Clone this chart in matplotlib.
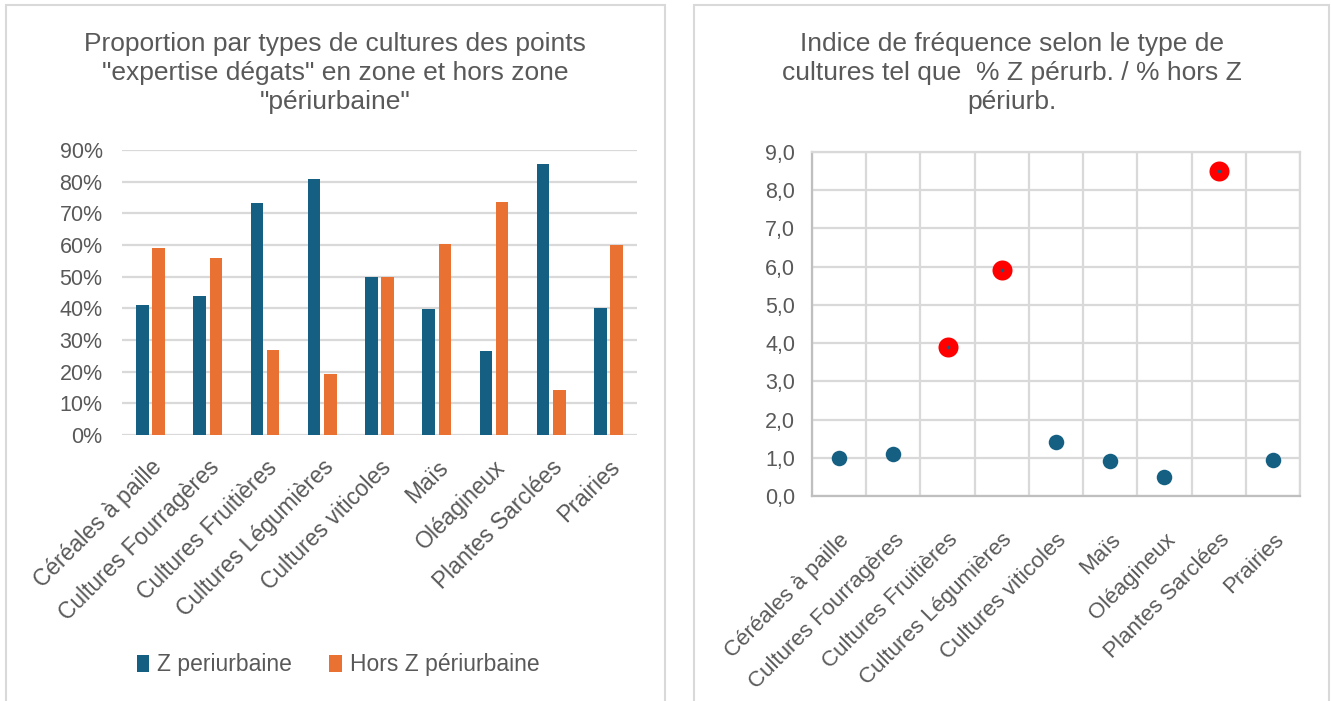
import matplotlib
matplotlib.use("Agg")
import matplotlib.pyplot as plt
from matplotlib.patches import Rectangle
import numpy as np

categories = ["Céréales à paille", "Cultures Fourragères", "Cultures Fruitières",
              "Cultures Légumières", "Cultures viticoles", "Maïs", "Oléagineux",
              "Plantes Sarclées", "Prairies"]
z_periurbaine = [41.0, 44.0, 73.3, 80.7, 50.0, 39.8, 26.5, 85.7, 40.0]
hors_z_periurbaine = [59.0, 56.0, 26.7, 19.3, 50.0, 60.2, 73.5, 14.3, 60.0]
indice_frequence = [0.99, 1.10, 3.89, 5.90, 1.41, 0.92, 0.50, 8.49, 0.94]
highlighted = [False, False, True, True, False, False, False, True, False]
pct_ticks = [0, 10, 20, 30, 40, 50, 60, 70, 80, 90]
idx_ticks = [0, 1, 2, 3, 4, 5, 6, 7, 8, 9]

title_left = 'Proportion par types de cultures des points\n"expertise dégats" en zone et hors zone\n"périurbaine"'
title_right = "Indice de fréquence selon le type de\ncultures tel que  % Z pérurb. / % hors Z\npériurb."

BLUE = "#156082"
ORANGE = "#E97132"
TXT = "#595959"
GRID = "#D9D9D9"
FONT = "Liberation Sans"

plt.rcParams["font.family"] = [FONT, "DejaVu Sans"]

W, H = 1331, 701
fig = plt.figure(figsize=(W / 100, H / 100), dpi=100)

def fx(px):
    return px / W

def fy(py):
    return 1 - py / H

# panel borders
for x0, x1 in [(5.5, 665), (694, 1329)]:
    fig.add_artist(Rectangle((fx(x0), fy(720)), fx(x1 - x0), (720 - 5) / H,
                             transform=fig.transFigure, fill=False,
                             edgecolor="#D9D9D9", linewidth=1.5))

# ---------- left bar chart ----------
axL = fig.add_axes([fx(122), fy(435), fx(637 - 122), (435 - 150) / H])
x = np.arange(len(categories))
bw = 0.22
off = 0.142
axL.bar(x - off, z_periurbaine, bw, color=BLUE, label="Z periurbaine", zorder=3)
axL.bar(x + off, hors_z_periurbaine, bw, color=ORANGE, label="Hors Z périurbaine", zorder=3)
axL.set_xlim(-0.5, len(categories) - 0.5)
axL.set_ylim(0, 90)
axL.set_yticks(pct_ticks)
axL.set_yticklabels([f"{v}%" for v in pct_ticks])
axL.yaxis.grid(True, color=GRID, linewidth=1.6, zorder=0)
axL.set_axisbelow(True)
for s in axL.spines.values():
    s.set_visible(False)
axL.tick_params(axis="both", length=0, colors=TXT, labelsize=15.5)
axL.tick_params(axis="y", pad=14)
axL.set_xticks(x)
axL.set_xticklabels(categories, rotation=45, ha="right", rotation_mode="anchor")
axL.tick_params(axis="x", pad=15, labelsize=16.5)
fig.text(fx(335), fy(73), title_left, ha="center", va="center", fontsize=19,
         color=TXT, linespacing=1.28)
leg = fig.legend(handles=axL.get_legend_handles_labels()[0],
                 labels=axL.get_legend_handles_labels()[1],
                 loc="center", bbox_to_anchor=(fx(338), fy(665)), ncol=2,
                 frameon=False, fontsize=16.5, handlelength=0.55, handleheight=0.8,
                 handletextpad=0.35, columnspacing=1.6, labelcolor=TXT)

# ---------- right scatter chart ----------
axR = fig.add_axes([fx(812), fy(496), fx(1300 - 812), (496 - 152) / H])
xs = np.arange(len(categories))
vals = np.array(indice_frequence)
hl = np.array(highlighted)
axR.scatter(xs[~hl], vals[~hl], s=15.5 ** 2 * 0.52, color=BLUE, zorder=4, linewidths=0)
axR.scatter(xs[hl], vals[hl], s=20 ** 2 * 0.52, color="#FF0000", zorder=4, linewidths=0)
axR.scatter(xs[hl], vals[hl], s=3.5 ** 2 * 0.52, color=BLUE, zorder=5, linewidths=0)
axR.set_xlim(-0.5, len(categories) - 0.5)
axR.set_ylim(0, 9)
axR.set_yticks(idx_ticks)
axR.set_yticklabels([f"{v},0" for v in idx_ticks])
axR.set_xticks(xs)
axR.set_xticklabels(categories, rotation=45, ha="right", rotation_mode="anchor")
axR.set_xticks(np.arange(-0.5, len(categories), 1.0), minor=True)
axR.xaxis.grid(True, which="minor", color=GRID, linewidth=1.6, zorder=0)
axR.yaxis.grid(True, which="major", color=GRID, linewidth=1.6, zorder=0)
axR.set_axisbelow(True)
for side in ["top", "right"]:
    axR.spines[side].set_color(GRID)
    axR.spines[side].set_linewidth(1.6)
for side in ["left", "bottom"]:
    axR.spines[side].set_color("#BFBFBF")
    axR.spines[side].set_linewidth(1.6)
axR.tick_params(axis="both", which="both", length=0, colors=TXT, labelsize=15.5)
axR.tick_params(axis="y", pad=12)
axR.tick_params(axis="x", pad=24, labelsize=16)
fig.text(fx(1012), fy(73), title_right, ha="center", va="center", fontsize=19,
         color=TXT, linespacing=1.28)

fig.savefig("out.png", dpi=100, facecolor="white")
